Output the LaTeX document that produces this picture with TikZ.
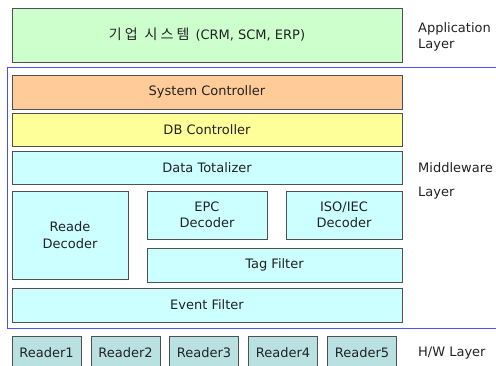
\documentclass[tikz,border=0pt]{standalone}
\usepackage{fontspec}
\setmainfont{DejaVu Sans}
\newfontfamily\krfont[LetterSpace=22]{Noto Sans CJK KR}
\definecolor{appgreen}{HTML}{CCFFCC}
\definecolor{ctrlorange}{HTML}{FFCC99}
\definecolor{dbyellow}{HTML}{FFFF99}
\definecolor{midcyan}{HTML}{CCFFFF}
\definecolor{readerteal}{HTML}{B9E1E1}
\definecolor{frameblue}{HTML}{4F4FFF}
\definecolor{edgegray}{HTML}{505050}
\definecolor{txtgray}{HTML}{222222}
\begin{document}
\begin{tikzpicture}[x=1pt,y=-1pt,
  box/.style={draw=edgegray, line width=0.9pt, inner sep=0pt, align=center,
    text=txtgray, font=\fontsize{13}{16.5}\selectfont},
  layerlabel/.style={anchor=west, inner sep=0pt, align=left, text=txtgray,
    font=\fontsize{13}{16}\selectfont}]
\useasboundingbox (0,0) rectangle (496,365);
\clip (0,0) rectangle (496,365);

% application layer
\node[box, fill=appgreen, minimum width=390pt, minimum height=54pt] (app) at (207,35)
  {{\krfont\fontsize{14}{17}\selectfont 기업\hspace{7pt}시스템}\hspace{6pt}(CRM, SCM, ERP)};
\node[layerlabel] (applbl) at (418,37) {Application\\Layer};

% middleware frame
\draw[frameblue, line width=1.1pt] (497,67.5) -- (7.5,67.5) -- (7.5,328.5) -- (497,328.5);

% middleware modules
\node[box, fill=ctrlorange, minimum width=390pt, minimum height=34pt] (sysctrl) at (207,92) {System Controller};
\node[box, fill=dbyellow, minimum width=390pt, minimum height=33pt] (dbctrl) at (207,129.5) {DB Controller};
\node[box, fill=midcyan, minimum width=390pt, minimum height=33pt] (datatot) at (207,167.5) {Data Totalizer};
\node[box, fill=midcyan, minimum width=116pt, minimum height=88pt] (readedec) at (70,235) {Reade\\Decoder};
\node[box, fill=midcyan, minimum width=120pt, minimum height=48pt] (epcdec) at (207,215) {EPC\\Decoder};
\node[box, fill=midcyan, minimum width=116pt, minimum height=48pt] (isodec) at (344,215) {ISO/IEC\\Decoder};
\node[box, fill=midcyan, minimum width=255pt, minimum height=34pt] (tagfilter) at (274.5,265) {Tag Filter};
\node[box, fill=midcyan, minimum width=390pt, minimum height=34pt] (eventfilter) at (207,305) {Event Filter};
\node[layerlabel] (midlbl1) at (418,168) {Middleware};
\node[layerlabel] (midlbl2) at (418,193) {Layer};

% hardware layer
\foreach \i/\cx in {1/46.5, 2/125.5, 3/204, 4/283, 5/362} {
  \node[box, fill=readerteal, minimum width=69pt, minimum height=34pt] (reader\i) at (\cx,353) {Reader\i};
}
\node[layerlabel] (hwlbl) at (418,353) {H/W Layer};
\end{tikzpicture}
\end{document}
